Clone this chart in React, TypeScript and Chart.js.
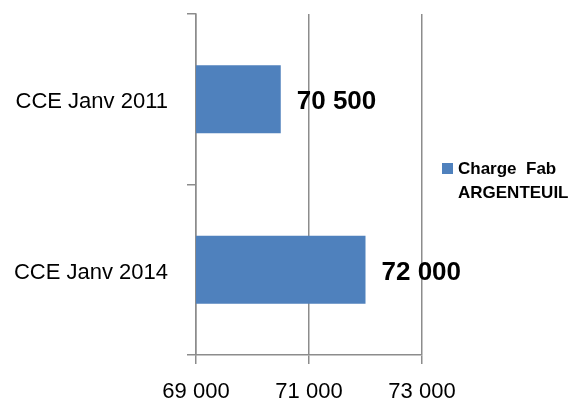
import React, { useEffect, useRef } from "react";
import { Chart, registerables } from "chart.js";

Chart.register(...registerables);

const categories = ["CCE Janv 2011", "CCE Janv 2014"];
const seriesName = ["Charge  Fab", "ARGENTEUIL"];
const seriesValues = [70500, 72000];
const xMin = 69000;
const xMax = 73000;
const xStep = 2000;

const FONT = "'Liberation Sans', Arial, sans-serif";
const BAR_COLOR = "#4F81BD";
const GRID_COLOR = "#8C8C8C";

const fmt = (v: number) => {
  const s = Math.round(v).toString();
  return s.replace(/\B(?=(\d{3})+(?!\d))/g, " ");
};

const labelsPlugin = {
  id: "valueLabelsAndLegend",
  afterDatasetsDraw(chart: any) {
    const ctx = chart.ctx;
    const meta = chart.getDatasetMeta(0);
    ctx.save();
    ctx.fillStyle = "#000";
    ctx.font = `bold 26px ${FONT}`;
    ctx.textAlign = "left";
    ctx.textBaseline = "middle";
    meta.data.forEach((bar: any, i: number) => {
      ctx.fillText(fmt(seriesValues[i]), bar.x + 16, bar.y + 3);
    });
    // legend
    const area = chart.chartArea;
    const lx = area.right + 20;
    const ly = 163;
    ctx.fillStyle = BAR_COLOR;
    ctx.fillRect(lx, ly, 11, 11);
    ctx.fillStyle = "#000";
    ctx.font = `bold 17px ${FONT}`;
    ctx.fillText(seriesName[0], lx + 16, ly + 6);
    ctx.fillText(seriesName[1], lx + 16, ly + 30);
    ctx.restore();
  },
};

export default function App() {
  const ref = useRef<HTMLCanvasElement>(null);
  useEffect(() => {
    if (!ref.current) return;
    const chart = new Chart(ref.current, {
      type: "bar",
      data: {
        labels: categories,
        datasets: [
          {
            label: seriesName.join(" "),
            data: seriesValues,
            backgroundColor: BAR_COLOR,
            borderWidth: 0,
            barPercentage: 0.5,
            categoryPercentage: 0.8,
          },
        ],
      },
      options: {
        indexAxis: "y",
        responsive: false,
        animation: false,
        layout: { padding: { top: 14, right: 156, left: 0, bottom: 0 } },
        plugins: {
          legend: { display: false },
          tooltip: { enabled: false },
        },
        scales: {
          x: {
            min: xMin,
            max: xMax,
            grid: {
              color: GRID_COLOR,
              lineWidth: 1.5,
              tickLength: 9,
              drawOnChartArea: true,
              drawTicks: true,
            },
            border: { display: true, color: GRID_COLOR, width: 1.5 },
            ticks: {
              stepSize: xStep,
              color: "#000",
              font: { family: FONT, size: 22 },
              padding: 15,
              callback: (v: any) => fmt(Number(v)),
            },
            afterFit: (scale: any) => {
              scale.height = 46;
              scale.paddingLeft = 0;
              scale.paddingRight = 0;
            },
          },
          y: {
            grid: {
              offset: true,
              drawOnChartArea: false,
              tickLength: 9,
              color: GRID_COLOR,
              lineWidth: 1.5,
            },
            border: { display: true, color: GRID_COLOR, width: 1.5 },
            ticks: {
              color: "#000",
              font: { family: FONT, size: 22 },
              padding: 19,
              labelOffset: 3,
            },
            afterFit: (scale: any) => {
              scale.width = 196;
              scale.paddingTop = 0;
              scale.paddingBottom = 0;
            },
          },
        },
      },
      plugins: [labelsPlugin],
    } as any);
    return () => chart.destroy();
  }, []);
  return (
    <div style={{ position: "absolute", left: 0, top: 0, width: 578, height: 401, background: "#fff" }}>
      <canvas ref={ref} width={578} height={401} style={{ display: "block" }} />
    </div>
  );
}
